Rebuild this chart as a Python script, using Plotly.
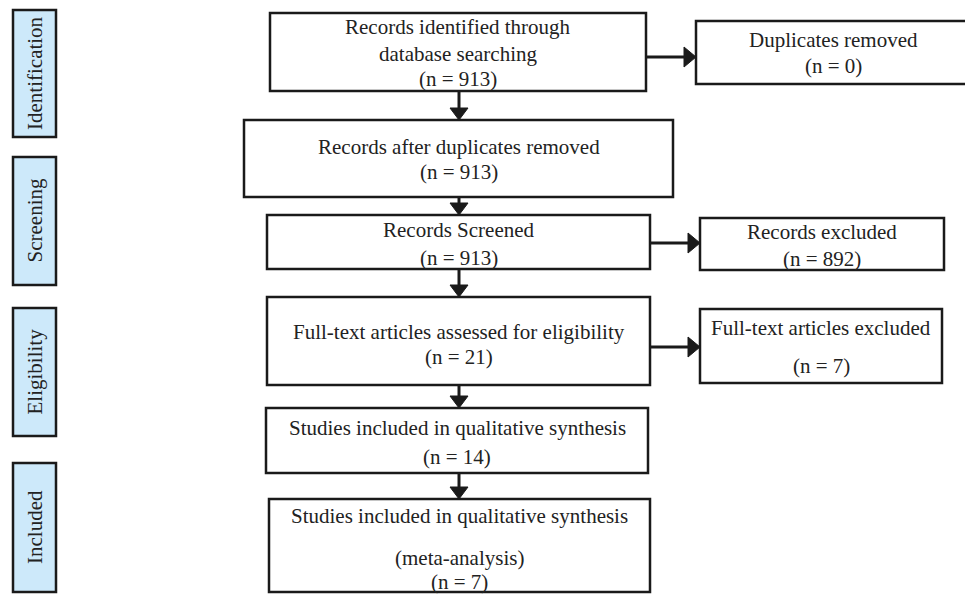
import plotly.graph_objects as go

# ---- data ----
stage_labels = ["Identification", "Screening", "Eligibility", "Included"]
main_titles = [
    ["Records identified through", "database searching"],
    ["Records after duplicates removed"],
    ["Records Screened"],
    ["Full-text articles assessed for eligibility"],
    ["Studies included in qualitative synthesis"],
    ["Studies included in qualitative synthesis", "(meta-analysis)"],
]
main_counts = [913, 913, 913, 21, 14, 7]
side_titles = [["Duplicates removed"], ["Records excluded"], ["Full-text articles excluded"]]
side_counts = [0, 892, 7]

# ---- layout geometry (pixels, screenshot coordinates) ----
W, H = 973, 594
OFF = 8  # page body margin offset
FONT = "Liberation Serif, Times New Roman, serif"
stage_boxes = [(13, 56, 10, 137), (13, 56, 157, 285), (13, 56, 308, 436), (13, 56, 463, 592)]
main_boxes = [(270, 646, 13, 91), (244, 673, 120, 197), (267, 650, 215, 269),
              (267, 650, 297, 385), (266, 648, 408, 473), (269, 650, 499, 592)]
main_text_y = [[27, 54, 79], [147, 172], [230, 258], [332, 357], [428, 457], [516, 558, 582]]
side_boxes = [(696, 970, 21, 84), (700, 944, 218, 270), (700, 942, 309, 383)]
side_text_y = [[40, 66], [232, 259], [328, 366]]
side_arrow_y = [57, 243, 347]
down_x = 459

shapes, annotations = [], []
LINE = "#1a1a1a"

def rect(b, fill="white"):
    x0, x1, y0, y1 = b
    shapes.append(dict(type="rect", xref="x", yref="y", x0=x0, x1=x1, y0=y0, y1=y1,
                       line=dict(color=LINE, width=2.5), fillcolor=fill, layer="below"))

def text(x, y, s, size=21, angle=0):
    annotations.append(dict(x=x, y=y, xref="x", yref="y", text=s, showarrow=False,
                            textangle=angle, font=dict(family=FONT, size=size, color="#222"),
                            xanchor="center", yanchor="middle"))

def arrow_down(x, y0, y1):
    shapes.append(dict(type="line", xref="x", yref="y", x0=x, x1=x, y0=y0, y1=y1 - 8,
                       line=dict(color=LINE, width=3)))
    shapes.append(dict(type="path", xref="x", yref="y",
                       path=f"M {x-9} {y1-12} L {x+9} {y1-12} L {x} {y1} Z",
                       fillcolor=LINE, line=dict(color=LINE, width=1)))

def arrow_right(x0, x1, y):
    shapes.append(dict(type="line", xref="x", yref="y", x0=x0, x1=x1 - 8, y0=y, y1=y,
                       line=dict(color=LINE, width=3)))
    shapes.append(dict(type="path", xref="x", yref="y",
                       path=f"M {x1-12} {y-10} L {x1-12} {y+10} L {x1} {y} Z",
                       fillcolor=LINE, line=dict(color=LINE, width=1)))

for lab, b in zip(stage_labels, stage_boxes):
    rect(b, fill="#cde9fa")
    text((b[0] + b[1]) / 2, (b[2] + b[3]) / 2, lab, size=21, angle=-90)

for i, (b, titles, n, ys) in enumerate(zip(main_boxes, main_titles, main_counts, main_text_y)):
    rect(b)
    cx = (b[0] + b[1]) / 2
    for t, y in zip(titles + [f"(n = {n})"], ys):
        text(cx, y, t)
    if i + 1 < len(main_boxes):
        arrow_down(down_x, b[3], main_boxes[i + 1][2])

main_for_side = [0, 2, 3]
for k, (b, titles, n, ys, ay) in enumerate(zip(side_boxes, side_titles, side_counts, side_text_y, side_arrow_y)):
    rect(b)
    cx = (b[0] + b[1]) / 2
    for t, y in zip(titles + [f"(n = {n})"], ys):
        text(cx, y, t)
    arrow_right(main_boxes[main_for_side[k]][1], b[0], ay)

fig = go.Figure()
fig.add_trace(go.Scatter(x=[OFF, W + OFF], y=[OFF, H + OFF], mode="markers", marker=dict(opacity=0),
                         hoverinfo="skip", showlegend=False))
fig.update_layout(
    width=W, height=H, margin=dict(l=0, r=0, t=0, b=0),
    paper_bgcolor="white", plot_bgcolor="white",
    xaxis=dict(range=[OFF, W + OFF], visible=False, fixedrange=True),
    yaxis=dict(range=[H + OFF, OFF], visible=False, fixedrange=True),
    shapes=shapes, annotations=annotations, showlegend=False,
)
fig.write_html("out.html")
